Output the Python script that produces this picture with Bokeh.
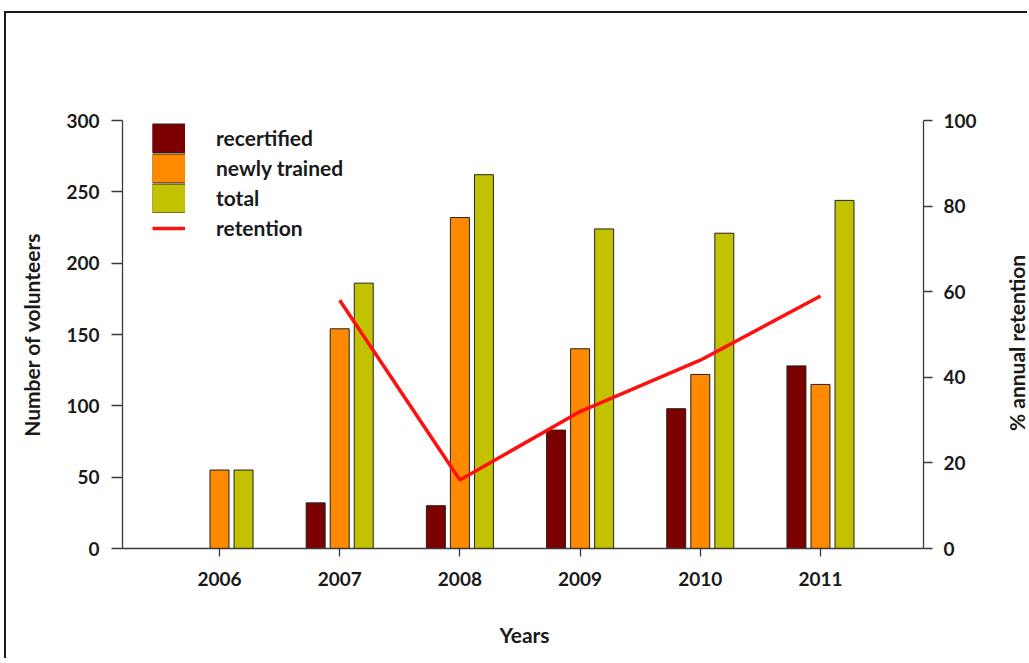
import math
from bokeh.plotting import figure
from bokeh.models import Range1d, LinearAxis, FixedTicker, Legend, LegendItem, Label
from bokeh.embed import file_html
from bokeh.resources import INLINE

# ---- data ----
years = [2006, 2007, 2008, 2009, 2010, 2011]
recertified = [0, 32, 30, 83, 98, 128]
newly_trained = [55, 154, 232, 140, 122, 115]
total = [55, 186, 262, 224, 221, 244]
ret_years = [2007, 2008, 2009, 2010, 2011]
retention = [58, 16, 32, 44, 59]
left_ticks = [0, 50, 100, 150, 200, 250, 300]
right_ticks = [0, 20, 40, 60, 80, 100]
series_names = ["recertified", "newly trained", "total", "retention"]
series_colors = ["#7d0000", "#ff8a00", "#c2c200", "#ff1010"]
axis_titles = ["Years", "Number of volunteers", "% annual retention"]

FONT = "Lato"
TXT = "#1a1a1a"
AX = "#3a3a3a"

# ---- geometry (page pixels) ----
W, H = 1023, 647          # canvas, placed at page (6, 13)
OX, OY = 6, 13
AX_L, AX_R, AX_T, AX_B = 122, 923, 120, 548   # axes box on the page
X0, X1 = 2005.193, 2011.857                   # x values at the left/right axes
Y_MAX, R_MAX = 300, 100
ppx = (AX_R - AX_L) / (X1 - X0)
ppy = (AX_B - AX_T) / Y_MAX

def to_x(px):
    return X0 + (px - AX_L) / ppx

def to_y(py, top=Y_MAX):
    return (AX_B - py) / (AX_B - AX_T) * top

p = figure(width=W, height=H, output_backend="svg", toolbar_location=None,
           x_range=Range1d(to_x(OX), to_x(OX + W)),
           y_range=Range1d(to_y(OY + H), to_y(OY)),
           min_border=0, min_border_left=0, min_border_right=0,
           min_border_top=0, min_border_bottom=0)
p.extra_y_ranges = {"ret": Range1d(to_y(OY + H, R_MAX), to_y(OY, R_MAX))}
p.styles = {"position": "relative", "left": f"{OX}px", "top": f"{OY}px",
            "box-shadow": "-2px -2px 0 0 #1a1a1a"}

p.xgrid.grid_line_color = None
p.ygrid.grid_line_color = None
p.outline_line_color = None
p.background_fill_color = "white"
p.border_fill_color = "white"

bw = 0.158
r1 = p.vbar(x=[y - 0.2 for y in years], top=recertified, width=bw,
            fill_color=series_colors[0], line_color="#222222", line_width=1)
r2 = p.vbar(x=years, top=newly_trained, width=bw,
            fill_color=series_colors[1], line_color="#222222", line_width=1)
r3 = p.vbar(x=[y + 0.2 for y in years], top=total, width=bw,
            fill_color=series_colors[2], line_color="#222222", line_width=1)
r4 = p.line(ret_years, retention, y_range_name="ret",
            line_color=series_colors[3], line_width=3.5)

def style_axis(ax, tick_out, standoff):
    ax.axis_line_color = AX
    ax.axis_line_width = 1.3
    ax.major_tick_line_color = AX
    ax.major_tick_line_width = 1.3
    ax.major_tick_in = 0
    ax.major_tick_out = tick_out
    ax.minor_tick_line_color = None
    ax.major_label_text_font = FONT
    ax.major_label_text_font_size = "19px"
    ax.major_label_text_font_style = "bold"
    ax.major_label_text_color = TXT
    ax.major_label_standoff = standoff

xa = p.xaxis[0]
xa.ticker = FixedTicker(ticks=years)
xa.fixed_location = 0
xa.bounds = (X0, X1)
style_axis(xa, 8, 15)

ya = p.yaxis[0]
ya.ticker = FixedTicker(ticks=left_ticks)
ya.fixed_location = X0
ya.bounds = (0, Y_MAX)
style_axis(ya, 11, 12)

ra = LinearAxis(y_range_name="ret", ticker=FixedTicker(ticks=right_ticks),
                fixed_location=X1, bounds=(0, R_MAX))
style_axis(ra, 9, 11)
p.add_layout(ra, "right")

# axis titles
def title(text, px, py, angle):
    p.add_layout(Label(x=to_x(px), y=to_y(py), text=text, angle=angle,
                       text_align="center", text_baseline="middle",
                       text_font=FONT, text_font_size="21px",
                       text_font_style="bold", text_color=TXT))

title(axis_titles[0], 524, 634, 0)
title(axis_titles[1], 31, 334, math.pi / 2)
title(axis_titles[2], 1016, 342.5, math.pi / 2)

# legend swatches: thick butt-capped lines fill the full swatch box
nan = float("nan")
swatch_items = []
for name, col in zip(series_names[:3], series_colors[:3]):
    edge = p.line(x=[nan], y=[nan], line_color="#222222", line_width=30)
    fill = p.line(x=[nan], y=[nan], line_color=col, line_width=28)
    swatch_items.append(LegendItem(label=name, renderers=[edge, fill]))
swatch_items.append(LegendItem(label=series_names[3], renderers=[r4]))

legend = Legend(items=swatch_items,
                location=(152 - OX, OY + H - 242.5), orientation="vertical",
                glyph_width=33, glyph_height=30, spacing=0,
                padding=0, margin=0, label_standoff=31,
                border_line_color=None, background_fill_alpha=0,
                label_text_font=FONT, label_text_font_size="21px",
                label_text_font_style="bold", label_text_color=TXT)
p.add_layout(legend)

open("out.html", "w").write(file_html(p, INLINE))
